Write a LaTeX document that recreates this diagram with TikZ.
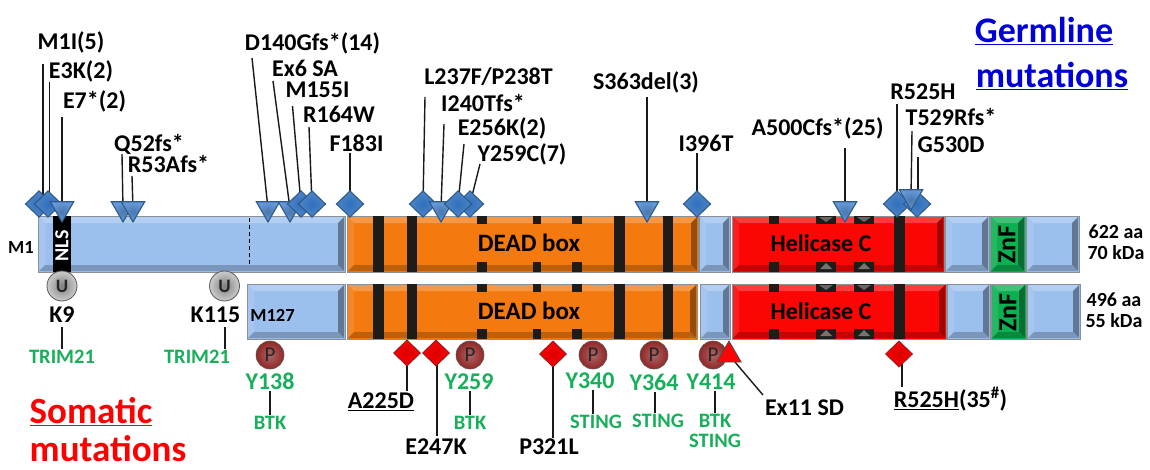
\documentclass[tikz,border=0pt]{standalone}
\usepackage{fontspec}
\setmainfont{Carlito}[BoldFont={Carlito Bold}]
\usetikzlibrary{shapes.geometric}
\pgfdeclarelayer{bars}
\pgfdeclarelayer{lines}
\pgfsetlayers{bars,lines,main}
\definecolor{cblue}{HTML}{9CC0EE}
\definecolor{corange}{HTML}{F47A10}
\definecolor{cred}{HTML}{FB0505}
\definecolor{cgreen}{HTML}{0BB050}
\definecolor{ctxt}{HTML}{17B05A}
\definecolor{cstripe}{HTML}{1E1C18}
\definecolor{cedge}{HTML}{8A9098}
\definecolor{dout}{HTML}{4F86C6}
\definecolor{din}{HTML}{2F6FBC}
\definecolor{dedge}{HTML}{2F5A8C}
\definecolor{tout}{HTML}{6699D8}
\definecolor{tin}{HTML}{4A78AE}
\definecolor{redge}{HTML}{7A2020}
\newcommand\fs[1]{\fontsize{#1}{#1}\selectfont\bfseries}
\tikzset{
 x=1pt,y=-1pt,
 box/.style={rectangle,draw=cedge,line width=1pt,inner sep=0,outer sep=0},
 lab/.style={font=\fs{24},inner sep=0,outer sep=0,text=black},
 glab/.style={font=\fs{24},inner sep=0,outer sep=1.5pt,text=ctxt},
 gsmall/.style={font=\fs{20.5},inner sep=0,outer sep=1.5pt,text=ctxt},
 info/.style={font=\fs{20},inner sep=0,text=black},
 small/.style={font=\fs{18.5},inner sep=0,text=black},
 conn/.style={line width=1.4pt,draw=black!90},
 bd/.style={diamond,aspect=1,minimum width=27pt,minimum height=26pt,inner sep=0,outer sep=0,draw=dedge,line width=1.1pt,inner color=din,outer color=dout},
 bt/.style={regular polygon,regular polygon sides=3,shape border rotate=180,minimum size=27pt,inner sep=0,outer sep=0,draw=dedge,line width=1.1pt,inner color=tin,outer color=tout},
 rd/.style={diamond,aspect=1,minimum width=27pt,minimum height=26pt,inner sep=0,outer sep=0,draw=redge,line width=.7pt,inner color=red!85!black,outer color=red},
 pc/.style={circle,minimum size=28pt,inner sep=0,outer sep=0,draw=black!65,line width=.6pt,inner color=red!45!black!60!white,outer color=red!50!black!85,font=\fontsize{21}{21}\selectfont,text=black!85},
 uc/.style={circle,minimum size=30pt,inner sep=0,outer sep=0,draw=black!65,line width=.8pt,inner color=black!50,outer color=black!20,font=\fontsize{19}{19}\selectfont\bfseries,text=black!85},
 stripe/.style={fill=cstripe},
}
\newcommand\bev[6]{%
 \node[box,fill=#6,minimum width={(#3-#2)*1pt},minimum height={(#5-#4)*1pt}] (#1) at ({(#2+#3)/2},{(#4+#5)/2}) {};
 \fill[#6!78!white] (#2+1,#4+1)--(#3-1,#4+1)--(#3-7,#4+7)--(#2+7,#4+7)--cycle;
 \fill[#6!90!white] (#2+1,#4+1)--(#2+7,#4+7)--(#2+7,#5-7)--(#2+1,#5-1)--cycle;
 \fill[#6!62!black] (#3-1,#4+1)--(#3-7,#4+7)--(#3-7,#5-7)--(#3-1,#5-1)--cycle;
 \fill[#6!78!black] (#2+1,#5-1)--(#2+7,#5-7)--(#3-7,#5-7)--(#3-1,#5-1)--cycle;
}
\newcommand\fullbar[2]{% y1 y2
 \foreach \a/\b in {373/384,407/417,614/625,663/673,894/905}{\fill[stripe] (\a,#1)--(\b,#1)--(\b,#2)--(\a,#2)--cycle;}
 \foreach \a/\b in {477/487,533/541,572/582,769/779,816/836,854/874}{
  \fill[stripe] (\a,#1)--(\b,#1)--(\b,#1+8)--(\a,#1+8)--cycle;
  \fill[stripe] (\a,#2-10)--(\b,#2-10)--(\b,#2)--(\a,#2)--cycle;}
 \foreach \a/\b in {816/836,854/874}{
  \fill[black!55] ({(\a+\b)/2},#2-9)--(\b-4,#2-3)--(\a+4,#2-3)--cycle;
  \fill[black!60] (\a+3,#1+1)--(\b-3,#1+1)--({(\a+\b)/2},#1+6)--cycle;}
}
\newcommand\cn[4]{% name, x, y, target expression: free end + connector
 \coordinate (#1-e) at (#2,#3);
 \draw[conn] (#1-e) -- (#4);
}
\begin{document}
\begin{tikzpicture}
\useasboundingbox (0,0) rectangle (1150,469);
\begin{pgfonlayer}{bars}
 \fill[white] (0,0) rectangle (1150,469);
 % top isoform
 \bev{topN}{38}{345}{216}{272}{cblue}
 \bev{topD}{347}{698}{216}{272}{corange}
 \bev{topL}{699}{730}{216}{272}{cblue}
 \bev{topH}{732}{944}{216}{272}{cred}
 \bev{topA}{945}{989}{216}{272}{cblue}
 \bev{topZ}{990}{1025}{216}{272}{cgreen}
 \bev{topC}{1026}{1079}{216}{272}{cblue}
 \fullbar{216}{272}
 \fill[black] (53,216) rectangle (71,272);
 \draw[line width=1pt,dash pattern=on 4pt off 3pt] (249.5,218) -- (249.5,266);
 % bottom isoform
 \bev{botN}{247}{345}{284}{339}{cblue}
 \bev{botD}{347}{697}{284}{339}{corange}
 \bev{botL}{700}{730}{284}{339}{cblue}
 \bev{botH}{732}{946}{284}{339}{cred}
 \bev{botA}{947}{990}{284}{339}{cblue}
 \bev{botZ}{991}{1026}{284}{339}{cgreen}
 \bev{botC}{1027}{1080}{284}{339}{cblue}
 \fullbar{284}{339}
\end{pgfonlayer}

% bar texts
\node[font=\fs{20},text=white,rotate=90,inner sep=0] (nls) at (62,246) {NLS};
\node[small] (m1) at (21,247) {M1};
\node[small] (m127) at (272.5,315) {M127};
\node[font=\fs{25},inner sep=0] (dead1) at (529,243) {DEAD box};
\node[font=\fs{25},inner sep=0] (dead2) at (529,311) {DEAD box};
\node[font=\fs{24},inner sep=0] (heli1) at (821,243) {Helicase C};
\node[font=\fs{24},inner sep=0] (heli2) at (821,311) {Helicase C};
\node[font=\fs{26},rotate=90,inner sep=0] (znf1) at (1007,244.5) {ZnF};
\node[font=\fs{26},rotate=90,inner sep=0] (znf2) at (1008,312.5) {ZnF};
\node[info] (s1) at (1116,232) {622 aa};
\node[info] (s2) at (1116,253) {70 kDa};
\node[info] (s3) at (1114,300) {496 aa};
\node[info] (s4) at (1114,321) {55 kDa};

% headings
\node[font=\fs{36},text=blue!85!black,inner sep=0] (germ) at (1044,31) {\underline{Germline}};
\node[font=\fs{36},text=blue!85!black,inner sep=0] (germb) at (1052,76) {\underline{mutations}};
\node[font=\fs{37},text=red,inner sep=0] (soma) at (91,412) {\underline{Somatic}};
\node[font=\fs{37},text=red,inner sep=0] (somb) at (108,449) {mutations};

% germline labels
\node[lab] (l1) at (71,42) {M1I(5)};
\node[lab] (l2) at (81,71) {E3K(2)};
\node[lab] (l3) at (94.5,101) {E7*(2)};
\node[lab] (l4) at (149,144) {Q52fs*};
\node[lab] (l5) at (168.5,164) {R53Afs*};
\node[lab] (l6) at (312.5,43) {D140Gfs*(14)};
\node[lab] (l7) at (305,68) {Ex6 SA};
\node[lab] (l8) at (317.5,90) {M155I};
\node[lab] (l9) at (339,114) {R164W};
\node[lab] (l10) at (356.5,143) {F183I};
\node[lab] (l11) at (488.5,77) {L237F/P238T};
\node[lab] (l12) at (483,103) {I240Tfs*};
\node[lab] (l13) at (502,128) {E256K(2)};
\node[lab] (l14) at (522,154) {Y259C(7)};
\node[lab] (l15) at (646,82) {S363del(3)};
\node[lab] (l16) at (706,143) {I396T};
\node[lab] (l17) at (817.5,128) {A500Cfs*(25)};
\node[lab] (l18) at (923,92) {R525H};
\node[lab] (l19) at (951,117) {T529Rfs*};
\node[lab] (l20) at (951,145) {G530D};

% germline markers
\node[bd] (m1i) at (39,204) {};
\node[bd] (e3k) at (48,204) {};
\node[bt] (e7) at (62,208.5) {};
\node[bt] (q52) at (123,208.5) {};
\node[bt] (r53) at (133,208.5) {};
\node[bt] (d140) at (268,208.5) {};
\node[bt] (ex6) at (290,208.5) {};
\node[bd] (m155) at (301,204) {};
\node[bd] (r164) at (312,204) {};
\node[bd] (f183) at (350,204) {};
\node[bd] (y259c) at (470,204) {};
\node[bd] (l237) at (423,204) {};
\node[bt] (i240) at (441,208.5) {};
\node[bd] (e256) at (458,204) {};
\node[bt] (s363) at (647,208.5) {};
\node[bd] (i396) at (697,204) {};
\node[bt] (a500) at (845,208.5) {};
\node[bd] (r525) at (897,204) {};
\node[bd] (g530) at (917,204) {};
\node[bt] (t529) at (911,196.5) {};

% modification circles and somatic markers
\node[uc] (u1) at (62,286) {U};
\node[uc] (u2) at (224.5,286) {U};
\node[pc] (p1) at (270,355) {P};
\node[pc] (p2) at (470,355) {P};
\node[pc] (p3) at (593,355) {P};
\node[pc] (p4) at (654,355) {P};
\node[pc] (p5) at (713,355) {P};
\node[rd] (a225) at (407,353) {};
\node[rd] (e247) at (436,353) {};
\node[rd] (p321) at (553,354) {};
\node[rd] (r525s) at (899,354) {};
\node[regular polygon,regular polygon sides=3,minimum size=28pt,inner sep=0,outer sep=0,draw=black!70,line width=.8pt,fill=cred] (ex11) at (729,355) {};

% lower labels
\node[lab] (k9) at (62,315) {K9};
\node[lab] (k115) at (215.5,315) {K115};
\node[gsmall] (t1) at (62,357) {TRIM21};
\node[gsmall] (t2) at (197,357) {TRIM21};
\node[glab] (y138) at (270,381) {Y138};
\node[gsmall] (b1) at (270,423) {BTK};
\node[glab] (y259) at (469,382) {Y259};
\node[gsmall] (b2) at (470,423) {BTK};
\node[glab] (y340) at (590,381) {Y340};
\node[gsmall] (s5) at (596,422) {STING};
\node[glab] (y364) at (654,382) {Y364};
\node[gsmall] (s6) at (658,421) {STING};
\node[glab] (y414) at (711,382) {Y414};
\node[gsmall] (b3) at (715,421) {BTK};
\node[gsmall] (s7) at (715,441) {STING};
\node[lab] (a225l) at (381,402) {\underline{A225D}};
\node[lab] (e247l) at (436,447) {E247K};
\node[lab] (p321l) at (549,447) {P321L};
\node[lab] (ex11l) at (804.5,408) {Ex11 SD};
\node[lab] (r525l) at (950.5,399) {\underline{R525H}(35\textsuperscript{\#})};

\begin{pgfonlayer}{lines}
 \cn{c1}{43}{64}{m1i.center -| c1-e}
 \cn{c2}{49.5}{82}{e3k.center -| c2-e}
 \cn{c3}{62}{117}{e7}
 \cn{c4}{122}{154}{q52}
 \cn{c5}{132}{176}{r53}
 \cn{c6}{252}{58}{d140}
 \cn{c7}{273}{81}{ex6}
 \cn{c8}{292.5}{106}{m155}
 \cn{c9}{309}{127}{r164}
 \cn{c10}{350}{153}{f183}
 \cn{c11}{425}{97}{l237}
 \cn{c12}{444}{124}{i240}
 \cn{c13}{464}{144}{e256}
 \cn{c14}{480}{164}{y259c}
 \cn{c15}{647}{97}{s363}
 \cn{c16}{697}{153}{i396}
 \cn{c17}{845}{148}{a500}
 \cn{c18}{897}{104}{r525}
 \cn{c19}{912}{131}{t529}
 \cn{c20}{918}{157}{g530.center -| c20-e}
 \cn{c21}{407}{391}{a225}
 \cn{c22}{437}{436}{e247.center -| c22-e}
 \cn{c23}{553}{438}{p321}
 \cn{c24}{763}{395}{ex11}
 \cn{c25}{902}{387}{r525s.center -| c25-e}
\end{pgfonlayer}
\coordinate (k9a) at (62,327);
\draw[conn] (k9a) -- (k9a |- t1.north);
\coordinate (k115a) at (225,327);
\draw[conn] (k115a) -- (k115a |- t2.north);
\draw[conn] (y138.south) -- (y138.south |- b1.north);
\draw[conn] (y259.south) ++(1,0) coordinate (y259a) -- (y259a |- b2.north);
\draw[conn] (y340.south) ++(3,0) coordinate (y340a) -- (y340a |- s5.north);
\draw[conn] (y364.south) ++(1,0) coordinate (y364a) -- (y364a |- s6.north);
\draw[conn] (y414.south) ++(4,0) coordinate (y414a) -- (y414a |- b3.north);
\end{tikzpicture}
\end{document}
